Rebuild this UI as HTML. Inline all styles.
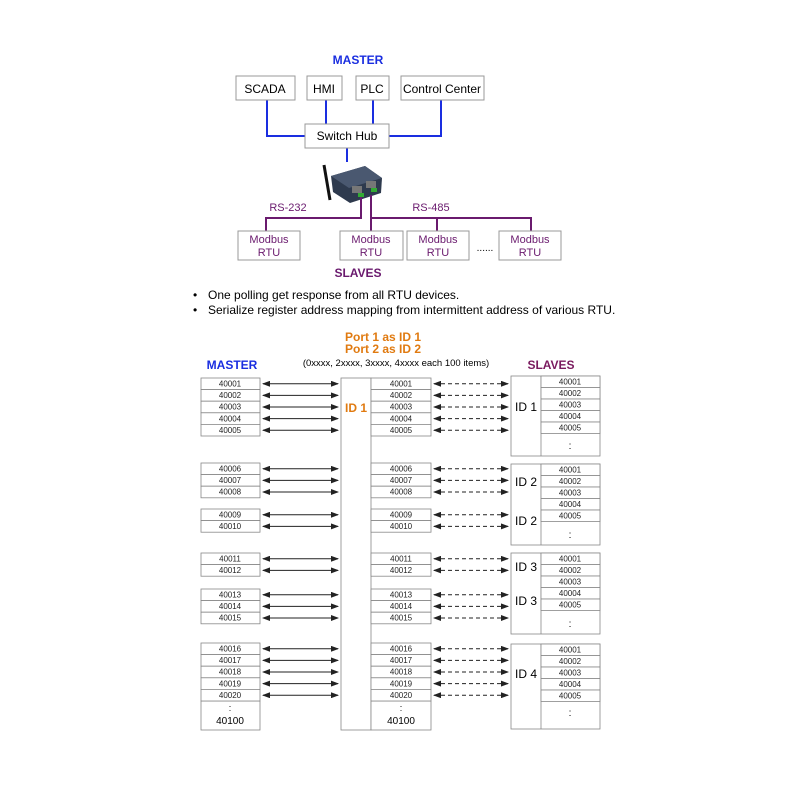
<!DOCTYPE html>
<html><head><meta charset="utf-8"><style>
html,body{margin:0;padding:0;background:#fff;}
svg{display:block;font-family:"Liberation Sans",Arial,sans-serif;}
.b{fill:#fff;stroke:#999;stroke-width:1}
.c{fill:#fff;stroke:#888;stroke-width:0.8}
.t{font-size:8px;fill:#222;text-anchor:middle}
.s{stroke:#222;stroke-width:1;marker-start:url(#a);marker-end:url(#a)}
.d{stroke:#222;stroke-width:1;stroke-dasharray:4,3;marker-start:url(#a);marker-end:url(#a)}
.bl{fill:none;stroke:#1a2ee0;stroke-width:2}
.pu{fill:none;stroke:#6a1a6e;stroke-width:2}
</style></head><body>
<svg width="800" height="800" viewBox="0 0 800 800">
<defs><marker id="a" markerWidth="8" markerHeight="6" refX="7" refY="3" orient="auto-start-reverse" markerUnits="userSpaceOnUse"><path d="M0,0 L8,3 L0,6 z" fill="#222"/></marker></defs>

<text x="358" y="64" font-size="12" font-weight="bold" fill="#1a2ee0" text-anchor="middle">MASTER</text>
<path class="bl" d="M267,100 V136 H305 M326,100 V124 M373,100 V124 M441,100 V136 H389 M347,148 V162"/>
<rect class="b" x="236" y="76" width="59" height="24"/><text x="265" y="93" font-size="12" text-anchor="middle">SCADA</text>
<rect class="b" x="307" y="76" width="35" height="24"/><text x="324" y="93" font-size="12" text-anchor="middle">HMI</text>
<rect class="b" x="356" y="76" width="33" height="24"/><text x="372" y="93" font-size="12" text-anchor="middle">PLC</text>
<rect class="b" x="401" y="76" width="83" height="24"/><text x="442" y="93" font-size="12" text-anchor="middle">Control Center</text>
<rect class="b" x="305" y="124" width="84" height="24"/><text x="347" y="140" font-size="12" text-anchor="middle">Switch Hub</text>
<!-- device -->
<line x1="324" y1="165" x2="330" y2="200" stroke="#111" stroke-width="3"/>
<polygon points="331,176 365,166 382,178 381,193 350,203 333,192" fill="#2e3a4e"/>
<polygon points="331,176 365,166 382,178 349,188" fill="#4a5870"/>
<rect x="352" y="186" width="10" height="7" fill="#777"/><rect x="366" y="181" width="10" height="7" fill="#777"/>
<rect x="358" y="193" width="6" height="4" fill="#3a3"/><rect x="371" y="188" width="6" height="4" fill="#3a3"/>
<path class="pu" d="M361,197 V218 H266 V232 M371,195 V232 M371,218 H531 V232 M437,218 V232"/>
<text x="288" y="211" font-size="11" fill="#6a1a6e" text-anchor="middle">RS-232</text>
<text x="431" y="211" font-size="11" fill="#6a1a6e" text-anchor="middle">RS-485</text>
<g font-size="11" fill="#6a1a6e" text-anchor="middle">
<rect class="b" x="238" y="231" width="62" height="29"/><text x="269" y="243">Modbus</text><text x="269" y="256">RTU</text>
<rect class="b" x="340" y="231" width="63" height="29"/><text x="371" y="243">Modbus</text><text x="371" y="256">RTU</text>
<rect class="b" x="407" y="231" width="62" height="29"/><text x="438" y="243">Modbus</text><text x="438" y="256">RTU</text>
<rect class="b" x="499" y="231" width="62" height="29"/><text x="530" y="243">Modbus</text><text x="530" y="256">RTU</text>
</g>
<text x="485" y="251" font-size="10" text-anchor="middle">......</text>
<text x="358" y="277" font-size="12" font-weight="bold" fill="#6a1a6e" text-anchor="middle">SLAVES</text>
<text x="193" y="299" font-size="12">•</text><text x="208" y="299" font-size="12">One polling get response from all RTU devices.</text>
<text x="193" y="314" font-size="12">•</text><text x="208" y="314" font-size="12">Serialize register address mapping from intermittent address of various RTU.</text>

<text x="383" y="341" font-size="12" font-weight="bold" fill="#e07a10" text-anchor="middle">Port 1 as ID 1</text>
<text x="383" y="353" font-size="12" font-weight="bold" fill="#e07a10" text-anchor="middle">Port 2 as ID 2</text>
<text x="396" y="366" font-size="9.5" text-anchor="middle">(0xxxx, 2xxxx, 3xxxx, 4xxxx each 100 items)</text>
<text x="232" y="369" font-size="12" font-weight="bold" fill="#1a2ee0" text-anchor="middle">MASTER</text>
<text x="551" y="369" font-size="12" font-weight="bold" fill="#7a1a5e" text-anchor="middle">SLAVES</text>

<rect class="c" x="341" y="378" width="30" height="352"/>
<text x="356" y="412" font-size="12" font-weight="bold" fill="#e07a10" text-anchor="middle">ID 1</text>
<rect class="c" x="201" y="701" width="59" height="29"/><text x="230" y="711" font-size="9" text-anchor="middle">:</text><text x="230" y="724" font-size="10" text-anchor="middle">40100</text>
<rect class="c" x="371" y="701" width="60" height="29"/><text x="401" y="711" font-size="9" text-anchor="middle">:</text><text x="401" y="724" font-size="10" text-anchor="middle">40100</text>

<!-- left/mid rows -->
<g>
<rect class="c" x="201" y="378" width="59" height="11.6"/><text class="t" x="230" y="386.5">40001</text><line class="s" x1="263" y1="383.8" x2="338" y2="383.8"/><rect class="c" x="371" y="378" width="60" height="11.6"/><text class="t" x="401" y="386.5">40001</text><line class="d" x1="434" y1="383.8" x2="508" y2="383.8"/>
<rect class="c" x="201" y="389.6" width="59" height="11.6"/><text class="t" x="230" y="398.1">40002</text><line class="s" x1="263" y1="395.4" x2="338" y2="395.4"/><rect class="c" x="371" y="389.6" width="60" height="11.6"/><text class="t" x="401" y="398.1">40002</text><line class="d" x1="434" y1="395.4" x2="508" y2="395.4"/>
<rect class="c" x="201" y="401.2" width="59" height="11.6"/><text class="t" x="230" y="409.7">40003</text><line class="s" x1="263" y1="407" x2="338" y2="407"/><rect class="c" x="371" y="401.2" width="60" height="11.6"/><text class="t" x="401" y="409.7">40003</text><line class="d" x1="434" y1="407" x2="508" y2="407"/>
<rect class="c" x="201" y="412.8" width="59" height="11.6"/><text class="t" x="230" y="421.3">40004</text><line class="s" x1="263" y1="418.6" x2="338" y2="418.6"/><rect class="c" x="371" y="412.8" width="60" height="11.6"/><text class="t" x="401" y="421.3">40004</text><line class="d" x1="434" y1="418.6" x2="508" y2="418.6"/>
<rect class="c" x="201" y="424.4" width="59" height="11.6"/><text class="t" x="230" y="432.9">40005</text><line class="s" x1="263" y1="430.2" x2="338" y2="430.2"/><rect class="c" x="371" y="424.4" width="60" height="11.6"/><text class="t" x="401" y="432.9">40005</text><line class="d" x1="434" y1="430.2" x2="508" y2="430.2"/>

<rect class="c" x="201" y="463" width="59" height="11.6"/><text class="t" x="230" y="471.5">40006</text><line class="s" x1="263" y1="468.8" x2="338" y2="468.8"/><rect class="c" x="371" y="463" width="60" height="11.6"/><text class="t" x="401" y="471.5">40006</text><line class="d" x1="434" y1="468.8" x2="508" y2="468.8"/>
<rect class="c" x="201" y="474.6" width="59" height="11.6"/><text class="t" x="230" y="483.1">40007</text><line class="s" x1="263" y1="480.4" x2="338" y2="480.4"/><rect class="c" x="371" y="474.6" width="60" height="11.6"/><text class="t" x="401" y="483.1">40007</text><line class="d" x1="434" y1="480.4" x2="508" y2="480.4"/>
<rect class="c" x="201" y="486.2" width="59" height="11.6"/><text class="t" x="230" y="494.7">40008</text><line class="s" x1="263" y1="492" x2="338" y2="492"/><rect class="c" x="371" y="486.2" width="60" height="11.6"/><text class="t" x="401" y="494.7">40008</text><line class="d" x1="434" y1="492" x2="508" y2="492"/>

<rect class="c" x="201" y="509" width="59" height="11.6"/><text class="t" x="230" y="517.5">40009</text><line class="s" x1="263" y1="514.8" x2="338" y2="514.8"/><rect class="c" x="371" y="509" width="60" height="11.6"/><text class="t" x="401" y="517.5">40009</text><line class="d" x1="434" y1="514.8" x2="508" y2="514.8"/>
<rect class="c" x="201" y="520.6" width="59" height="11.6"/><text class="t" x="230" y="529.1">40010</text><line class="s" x1="263" y1="526.4" x2="338" y2="526.4"/><rect class="c" x="371" y="520.6" width="60" height="11.6"/><text class="t" x="401" y="529.1">40010</text><line class="d" x1="434" y1="526.4" x2="508" y2="526.4"/>

<rect class="c" x="201" y="553" width="59" height="11.6"/><text class="t" x="230" y="561.5">40011</text><line class="s" x1="263" y1="558.8" x2="338" y2="558.8"/><rect class="c" x="371" y="553" width="60" height="11.6"/><text class="t" x="401" y="561.5">40011</text><line class="d" x1="434" y1="558.8" x2="508" y2="558.8"/>
<rect class="c" x="201" y="564.6" width="59" height="11.6"/><text class="t" x="230" y="573.1">40012</text><line class="s" x1="263" y1="570.4" x2="338" y2="570.4"/><rect class="c" x="371" y="564.6" width="60" height="11.6"/><text class="t" x="401" y="573.1">40012</text><line class="d" x1="434" y1="570.4" x2="508" y2="570.4"/>

<rect class="c" x="201" y="589" width="59" height="11.6"/><text class="t" x="230" y="597.5">40013</text><line class="s" x1="263" y1="594.8" x2="338" y2="594.8"/><rect class="c" x="371" y="589" width="60" height="11.6"/><text class="t" x="401" y="597.5">40013</text><line class="d" x1="434" y1="594.8" x2="508" y2="594.8"/>
<rect class="c" x="201" y="600.6" width="59" height="11.6"/><text class="t" x="230" y="609.1">40014</text><line class="s" x1="263" y1="606.4" x2="338" y2="606.4"/><rect class="c" x="371" y="600.6" width="60" height="11.6"/><text class="t" x="401" y="609.1">40014</text><line class="d" x1="434" y1="606.4" x2="508" y2="606.4"/>
<rect class="c" x="201" y="612.2" width="59" height="11.6"/><text class="t" x="230" y="620.7">40015</text><line class="s" x1="263" y1="618" x2="338" y2="618"/><rect class="c" x="371" y="612.2" width="60" height="11.6"/><text class="t" x="401" y="620.7">40015</text><line class="d" x1="434" y1="618" x2="508" y2="618"/>

<rect class="c" x="201" y="643" width="59" height="11.6"/><text class="t" x="230" y="651.5">40016</text><line class="s" x1="263" y1="648.8" x2="338" y2="648.8"/><rect class="c" x="371" y="643" width="60" height="11.6"/><text class="t" x="401" y="651.5">40016</text><line class="d" x1="434" y1="648.8" x2="508" y2="648.8"/>
<rect class="c" x="201" y="654.6" width="59" height="11.6"/><text class="t" x="230" y="663.1">40017</text><line class="s" x1="263" y1="660.4" x2="338" y2="660.4"/><rect class="c" x="371" y="654.6" width="60" height="11.6"/><text class="t" x="401" y="663.1">40017</text><line class="d" x1="434" y1="660.4" x2="508" y2="660.4"/>
<rect class="c" x="201" y="666.2" width="59" height="11.6"/><text class="t" x="230" y="674.7">40018</text><line class="s" x1="263" y1="672" x2="338" y2="672"/><rect class="c" x="371" y="666.2" width="60" height="11.6"/><text class="t" x="401" y="674.7">40018</text><line class="d" x1="434" y1="672" x2="508" y2="672"/>
<rect class="c" x="201" y="677.8" width="59" height="11.6"/><text class="t" x="230" y="686.3">40019</text><line class="s" x1="263" y1="683.6" x2="338" y2="683.6"/><rect class="c" x="371" y="677.8" width="60" height="11.6"/><text class="t" x="401" y="686.3">40019</text><line class="d" x1="434" y1="683.6" x2="508" y2="683.6"/>
<rect class="c" x="201" y="689.4" width="59" height="11.6"/><text class="t" x="230" y="697.9">40020</text><line class="s" x1="263" y1="695.2" x2="338" y2="695.2"/><rect class="c" x="371" y="689.4" width="60" height="11.6"/><text class="t" x="401" y="697.9">40020</text><line class="d" x1="434" y1="695.2" x2="508" y2="695.2"/>
</g>

<!-- slaves -->
<g>
<rect class="c" x="511" y="376" width="89" height="80"/><line x1="541" y1="376" x2="541" y2="456" stroke="#888" stroke-width="0.8"/>
<text x="526" y="411" font-size="12" text-anchor="middle">ID 1</text>
<rect class="c" x="541" y="376" width="59" height="11.5"/><text class="t" x="570" y="384.5">40001</text>
<rect class="c" x="541" y="387.5" width="59" height="11.5"/><text class="t" x="570" y="396">40002</text>
<rect class="c" x="541" y="399" width="59" height="11.5"/><text class="t" x="570" y="407.5">40003</text>
<rect class="c" x="541" y="410.5" width="59" height="11.5"/><text class="t" x="570" y="419">40004</text>
<rect class="c" x="541" y="422" width="59" height="11.5"/><text class="t" x="570" y="430.5">40005</text>
<text x="570" y="449" font-size="10" text-anchor="middle">:</text>

<rect class="c" x="511" y="464" width="89" height="81"/><line x1="541" y1="464" x2="541" y2="545" stroke="#888" stroke-width="0.8"/>
<text x="526" y="486" font-size="12" text-anchor="middle">ID 2</text><text x="526" y="525" font-size="12" text-anchor="middle">ID 2</text>
<rect class="c" x="541" y="464" width="59" height="11.5"/><text class="t" x="570" y="472.5">40001</text>
<rect class="c" x="541" y="475.5" width="59" height="11.5"/><text class="t" x="570" y="484">40002</text>
<rect class="c" x="541" y="487" width="59" height="11.5"/><text class="t" x="570" y="495.5">40003</text>
<rect class="c" x="541" y="498.5" width="59" height="11.5"/><text class="t" x="570" y="507">40004</text>
<rect class="c" x="541" y="510" width="59" height="11.5"/><text class="t" x="570" y="518.5">40005</text>
<text x="570" y="538" font-size="10" text-anchor="middle">:</text>

<rect class="c" x="511" y="553" width="89" height="81"/><line x1="541" y1="553" x2="541" y2="634" stroke="#888" stroke-width="0.8"/>
<text x="526" y="571" font-size="12" text-anchor="middle">ID 3</text><text x="526" y="605" font-size="12" text-anchor="middle">ID 3</text>
<rect class="c" x="541" y="553" width="59" height="11.5"/><text class="t" x="570" y="561.5">40001</text>
<rect class="c" x="541" y="564.5" width="59" height="11.5"/><text class="t" x="570" y="573">40002</text>
<rect class="c" x="541" y="576" width="59" height="11.5"/><text class="t" x="570" y="584.5">40003</text>
<rect class="c" x="541" y="587.5" width="59" height="11.5"/><text class="t" x="570" y="596">40004</text>
<rect class="c" x="541" y="599" width="59" height="11.5"/><text class="t" x="570" y="607.5">40005</text>
<text x="570" y="627" font-size="10" text-anchor="middle">:</text>

<rect class="c" x="511" y="644" width="89" height="85"/><line x1="541" y1="644" x2="541" y2="729" stroke="#888" stroke-width="0.8"/>
<text x="526" y="678" font-size="12" text-anchor="middle">ID 4</text>
<rect class="c" x="541" y="644" width="59" height="11.5"/><text class="t" x="570" y="652.5">40001</text>
<rect class="c" x="541" y="655.5" width="59" height="11.5"/><text class="t" x="570" y="664">40002</text>
<rect class="c" x="541" y="667" width="59" height="11.5"/><text class="t" x="570" y="675.5">40003</text>
<rect class="c" x="541" y="678.5" width="59" height="11.5"/><text class="t" x="570" y="687">40004</text>
<rect class="c" x="541" y="690" width="59" height="11.5"/><text class="t" x="570" y="698.5">40005</text>
<text x="570" y="716" font-size="10" text-anchor="middle">:</text>
</g>
</svg>
</body></html>
